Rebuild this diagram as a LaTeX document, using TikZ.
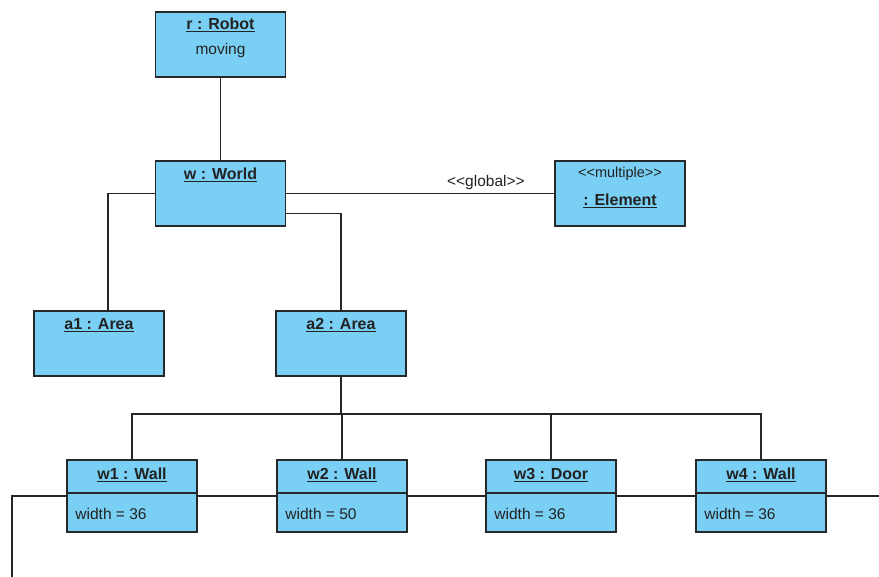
\documentclass[tikz,border=0pt]{standalone}
\usepackage{fontspec}
\setmainfont{Liberation Sans}
\usetikzlibrary{positioning}
\definecolor{objfill}{RGB}{122,207,244}
\definecolor{objline}{RGB}{40,40,40}
\definecolor{objtext}{RGB}{34,34,34}

\begin{document}
\begin{tikzpicture}[x=1pt,y=-1pt,
    obj/.style={draw=objline,fill=objfill,line width=1.5pt,minimum width=130pt,minimum height=65pt,inner sep=0pt},
    wallobj/.style={obj,minimum height=72pt},
    ttl/.style={anchor=base,font=\fontsize{16}{18}\selectfont\bfseries,text=objtext,inner sep=0pt},
    txt/.style={anchor=base,font=\fontsize{15.5}{18}\selectfont,text=objtext,inner sep=0pt},
    attr/.style={anchor=base west,font=\fontsize{15.5}{18}\selectfont,text=objtext,inner sep=0pt},
    link/.style={draw=black!85,line width=1.4pt}]
  \useasboundingbox (0,0) rectangle (879,577);

  % robot and world
  \node[obj] (robot) at (220.5,44.5) {};
  \node[ttl] (robotname) at ([yshift=-18]robot.north) {\underline{r : Robot}};
  \node[txt] (robotstate) at ([yshift=-43]robot.north) {moving};
  \node[obj] (world) at (220.5,193.5) {};
  \node[ttl] (worldname) at ([yshift=-19]world.north) {\underline{w : World}};
  \node[obj] (elem) at (620,193.5) {};
  \node[txt,font=\fontsize{14.5}{16}\selectfont] (elemstereo) at ([yshift=-17]elem.north) {<{}<multiple>{}>};
  \node[ttl] (elemname) at ([yshift=-45]elem.north) {\underline{: Element}};

  % areas
  \node[obj] (a1) at (99,343.5) {};
  \node[ttl] (a1name) at ([yshift=-19]a1.north) {\underline{a1 : Area}};
  \node[obj] (a2) at (341,343.5) {};
  \node[ttl] (a2name) at ([yshift=-19]a2.north) {\underline{a2 : Area}};

  % walls and door
  \node[wallobj] (w1) at (132,496) {};
  \node[ttl] (w1name) at ([yshift=-20]w1.north) {\underline{w1 : Wall}};
  \node[attr] (w1attr) at ([xshift=9,yshift=-60]w1.north west) {width = 36};
  \draw[objline,line width=1.5pt] ([yshift=3]w1.west) -- ([yshift=3]w1.east);
  \node[wallobj] (w2) at (342,496) {};
  \node[ttl] (w2name) at ([yshift=-20]w2.north) {\underline{w2 : Wall}};
  \node[attr] (w2attr) at ([xshift=9,yshift=-60]w2.north west) {width = 50};
  \draw[objline,line width=1.5pt] ([yshift=3]w2.west) -- ([yshift=3]w2.east);
  \node[wallobj] (w3) at (551,496) {};
  \node[ttl] (w3name) at ([yshift=-20]w3.north) {\underline{w3 : Door}};
  \node[attr] (w3attr) at ([xshift=9,yshift=-60]w3.north west) {width = 36};
  \draw[objline,line width=1.5pt] ([yshift=3]w3.west) -- ([yshift=3]w3.east);
  \node[wallobj] (w4) at (761,496) {};
  \node[ttl] (w4name) at ([yshift=-20]w4.north) {\underline{w4 : Wall}};
  \node[attr] (w4attr) at ([xshift=9,yshift=-60]w4.north west) {width = 36};
  \draw[objline,line width=1.5pt] ([yshift=3]w4.west) -- ([yshift=3]w4.east);

  % links
  \draw[link] (robot.south) -- (world.north);
  \draw[link] (world.west) -| ([xshift=9]a1.north);
  \draw[link] ([yshift=-20]world.east) -| (a2.north);
  \draw[link] (world.east) -- node[txt,pos=0.745,yshift=7] (glob) {<{}<global>{}>} (elem.west);
  \coordinate (bus) at (341,414);
  \draw[link] (a2.south) -- (bus);
  \draw[link] (w1.north) |- (bus) -| (w4.north);
  \draw[link] (w2.north) -- (w2.north |- bus);
  \draw[link] (w3.north) -- (w3.north |- bus);
  \draw[link] (w1.east) -- (w2.west);
  \draw[link] (w2.east) -- (w3.west);
  \draw[link] (w3.east) -- (w4.west);
  \coordinate (offleft) at (12,577);
  \coordinate (offright) at (879,496);
  \draw[link] (w1.west) -| (offleft);
  \draw[link] (w4.east) -- (offright);
\end{tikzpicture}
\end{document}
